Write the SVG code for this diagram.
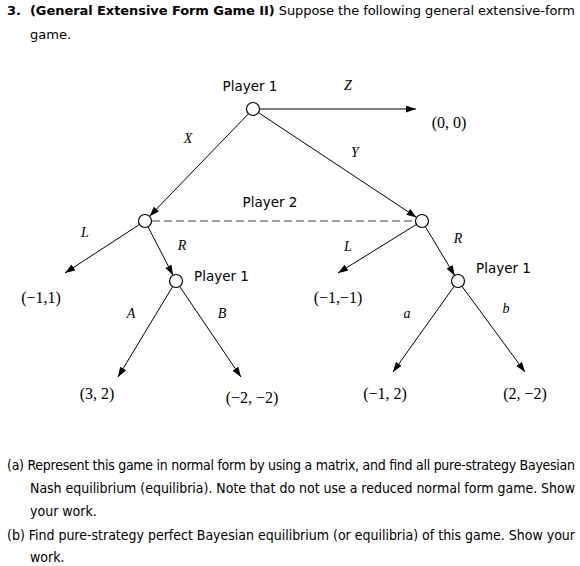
<svg xmlns="http://www.w3.org/2000/svg" width="580" height="566" viewBox="0 0 580 566">
<defs>
<marker id="arr" markerUnits="userSpaceOnUse" markerWidth="11" markerHeight="8" refX="10" refY="3.5" orient="auto"><path d="M0,0 L10,3.5 L0,7 z" fill="#000"/></marker>
<style>
.t{font-family:"DejaVu Sans Condensed","DejaVu Sans",sans-serif;font-size:14px;fill:#000}
.h{font-family:"DejaVu Sans","Liberation Sans",sans-serif;font-size:13px;fill:#000}
.p{font-family:"DejaVu Sans","Liberation Sans",sans-serif;font-size:13.5px;fill:#000}
.m{font-family:"Liberation Serif","DejaVu Serif",serif;font-size:16px;fill:#000}
.i{font-family:"Liberation Serif","DejaVu Serif",serif;font-size:14px;font-style:italic;fill:#000}
.e{stroke:#000;stroke-width:1;fill:none;marker-end:url(#arr)}
.n{fill:#fff;stroke:#000;stroke-width:1.2}
</style>
</defs>
<rect width="580" height="566" fill="#fff"/>
<text class="h" x="7" y="15"><tspan font-weight="bold">3.</tspan></text>
<text class="h" x="30" y="15" textLength="545" lengthAdjust="spacing"><tspan font-weight="bold">(General Extensive Form Game II)</tspan> Suppose the following general extensive-form</text>
<text class="h" x="30" y="39">game.</text>

<g id="connectors">
<line class="e" x1="259.5" y1="109" x2="416" y2="109"/>
<line class="e" x1="248.5" y1="113.7" x2="149.5" y2="216.3"/>
<line class="e" x1="258.4" y1="112.6" x2="416.6" y2="217.4"/>
<line x1="152" y1="221" x2="415" y2="221" stroke="#808080" stroke-width="1.5" stroke-dasharray="8,4"/>
<line class="e" x1="139.5" y1="224.5" x2="65" y2="273"/>
<line class="e" x1="148" y1="226.8" x2="173" y2="275.2"/>
<line class="e" x1="172.6" y1="286.6" x2="118" y2="377"/>
<line class="e" x1="179.6" y1="286.4" x2="241" y2="377"/>
<line class="e" x1="416.5" y1="224.4" x2="338" y2="273"/>
<line class="e" x1="425.3" y1="226.6" x2="454.7" y2="275.4"/>
<line class="e" x1="454.2" y1="286.3" x2="393" y2="372"/>
<line class="e" x1="461.9" y1="286.2" x2="525" y2="372"/>
</g>

<g id="root">
<circle class="n" cx="253" cy="109" r="6.5"/>
<text class="p" x="250" y="91" text-anchor="middle">Player 1</text>
</g>
<g id="p2left"><circle class="n" cx="145" cy="221" r="6.5"/></g>
<g id="p2right"><circle class="n" cx="422" cy="221" r="6.5"/></g>
<text class="p" x="270" y="207" text-anchor="middle">Player 2</text>
<g id="p1left">
<circle class="n" cx="176" cy="281" r="6.5"/>
<text class="p" x="194" y="281">Player 1</text>
</g>
<g id="p1right">
<circle class="n" cx="458" cy="281" r="6.5"/>
<text class="p" x="476" y="273">Player 1</text>
</g>

<g id="labels">
<text class="i" x="348" y="90" text-anchor="middle">Z</text>
<text class="i" x="188" y="143" text-anchor="middle">X</text>
<text class="i" x="355" y="157" text-anchor="middle">Y</text>
<text class="i" x="85" y="237" text-anchor="middle">L</text>
<text class="i" x="182" y="250" text-anchor="middle">R</text>
<text class="i" x="348" y="251" text-anchor="middle">L</text>
<text class="i" x="458" y="243" text-anchor="middle">R</text>
<text class="i" x="131" y="318" text-anchor="middle">A</text>
<text class="i" x="222" y="318" text-anchor="middle">B</text>
<text class="i" x="407" y="318" text-anchor="middle">a</text>
<text class="i" x="506" y="313" text-anchor="middle">b</text>
</g>

<g id="payoffs">
<text class="m" x="449" y="128" text-anchor="middle">(0, 0)</text>
<text class="m" x="41" y="303" text-anchor="middle">(−1,1)</text>
<text class="m" x="338" y="303" text-anchor="middle">(−1,−1)</text>
<text class="m" x="97" y="399" text-anchor="middle">(3, 2)</text>
<text class="m" x="252" y="403" text-anchor="middle">(−2, −2)</text>
<text class="m" x="385" y="399" text-anchor="middle">(−1, 2)</text>
<text class="m" x="525" y="399" text-anchor="middle">(2, −2)</text>
</g>

<text class="t" x="7" y="470" textLength="568" lengthAdjust="spacing">(a) Represent this game in normal form by using a matrix, and find all pure-strategy Bayesian</text>
<text class="t" x="30" y="493" textLength="545" lengthAdjust="spacing">Nash equilibrium (equilibria). Note that do not use a reduced normal form game. Show</text>
<text class="t" x="30" y="516">your work.</text>
<text class="t" x="7" y="540" textLength="568" lengthAdjust="spacing">(b) Find pure-strategy perfect Bayesian equilibrium (or equilibria) of this game. Show your</text>
<text class="t" x="30" y="562">work.</text>
</svg>
